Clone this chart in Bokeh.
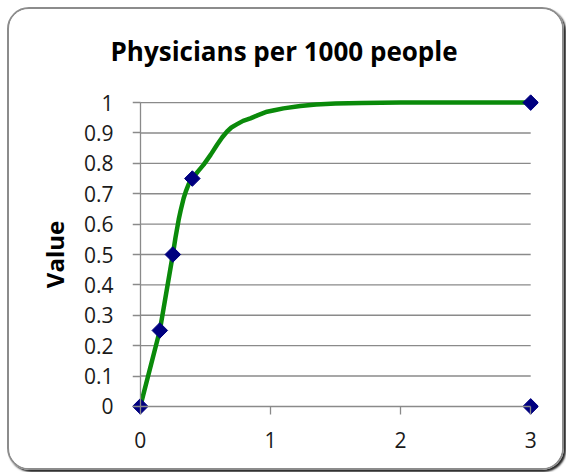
import numpy as np
from bokeh.plotting import figure
from bokeh.models import Range1d, FixedTicker, LinearAxis
from bokeh.embed import file_html
from bokeh.resources import INLINE

# ---- data ----
marker_x = [0, 0.15, 0.25, 0.4, 3, 3]
marker_y = [0, 0.25, 0.5, 0.75, 1, 0]

curve_x = [0, 0.15, 0.25, 0.27, 0.295, 0.31, 0.333, 0.35, 0.372, 0.385, 0.4,
           0.44, 0.487, 0.54, 0.59, 0.63, 0.667, 0.70, 0.744, 0.79, 0.846,
           0.90, 0.974, 1.03, 1.10, 1.23, 1.35, 1.5, 1.7, 2.0, 3.0]
curve_y = [0, 0.25, 0.5, 0.555, 0.615, 0.645, 0.685, 0.708, 0.732, 0.742, 0.75,
           0.772, 0.796, 0.828, 0.861, 0.886, 0.905, 0.918, 0.929, 0.94, 0.948,
           0.958, 0.970, 0.975, 0.981, 0.989, 0.994, 0.997, 0.999, 1.0, 1.0]

x_ticks = [0, 1, 2, 3]
y_ticks = [0, 0.1, 0.2, 0.3, 0.4, 0.5, 0.6, 0.7, 0.8, 0.9, 1.0]
y_tick_labels = {0: "0", 0.1: "0.1", 0.2: "0.2", 0.3: "0.3", 0.4: "0.4", 0.5: "0.5",
                 0.6: "0.6", 0.7: "0.7", 0.8: "0.8", 0.9: "0.9", 1.0: "1"}

title_text = "Physicians per 1000 people"
y_label = "Value"

FONT = "Open Sans"
GRID = "#8a8a8a"

p = figure(width=557, height=463, output_backend="svg", toolbar_location=None,
           x_range=Range1d(-0.06, 3.06), y_range=Range1d(-0.03, 1.03),
           min_border_left=123, min_border_right=28, min_border_top=83,
           min_border_bottom=57, title=title_text)

p.styles = {"border": "2px solid #8c8c8c", "border-radius": "22px",
            "box-shadow": "2px 2px 2px rgba(0,0,0,0.85)", "overflow": "hidden",
            "margin-left": "7px", "margin-top": "7px"}
p.outline_line_color = None
p.background_fill_color = "white"
p.border_fill_color = "white"

p.title.text_font = FONT
p.title.text_font_size = "26px"
p.title.text_font_style = "bold"
p.title.text_color = "#000000"
p.title.align = "left"
p.title.offset = -22
p.title.vertical_align = "top"
p.title.standoff = 46

# grid hidden; gridlines drawn across data extent 0..3
p.xgrid.visible = False
p.ygrid.visible = False
gy = [t for t in y_ticks if t > 0]
p.segment(x0=[x_ticks[0]] * len(gy), y0=gy, x1=[x_ticks[-1]] * len(gy), y1=gy,
          line_color=GRID, line_width=1.3)

# label-only axes at the frame edges
for ax in (p.xaxis[0], p.yaxis[0]):
    ax.axis_line_color = None
    ax.major_tick_line_color = None
    ax.major_tick_in = 0
    ax.major_tick_out = 0
    ax.minor_tick_line_color = None
    ax.major_label_text_font = FONT
    ax.major_label_text_font_size = "21px"
    ax.major_label_text_color = "#1a1a1a"

p.xaxis.ticker = FixedTicker(ticks=x_ticks)
p.xaxis.major_label_standoff = 16

p.yaxis.ticker = FixedTicker(ticks=y_ticks)
p.yaxis.major_label_overrides = y_tick_labels
p.yaxis.major_label_standoff = 19
p.yaxis.axis_label = y_label
p.yaxis.axis_label_text_font = FONT
p.yaxis.axis_label_text_font_size = "24px"
p.yaxis.axis_label_text_font_style = "bold"
p.yaxis.axis_label_text_color = "#000000"
p.yaxis.axis_label_standoff = 10

# line/tick axes placed at data zero
xa = LinearAxis(ticker=FixedTicker(ticks=x_ticks), fixed_location=0,
                bounds=(x_ticks[0], x_ticks[-1]))
ya = LinearAxis(ticker=FixedTicker(ticks=y_ticks), fixed_location=0,
                bounds=(y_ticks[0], y_ticks[-1]))
for ax in (xa, ya):
    ax.axis_line_color = GRID
    ax.axis_line_width = 1.3
    ax.major_tick_line_color = GRID
    ax.major_tick_line_width = 1.3
    ax.major_tick_in = 0
    ax.major_tick_out = 8
    ax.minor_tick_line_color = None
    ax.major_label_text_font_size = "0px"
    ax.major_label_text_color = None
p.add_layout(xa, "below")
p.add_layout(ya, "left")

p.line(curve_x, curve_y, line_color="#0a8a0a", line_width=4.5, line_join="round")
p.scatter(marker_x, marker_y, marker="square", angle=np.pi / 4, size=11,
          fill_color="#000080", line_color="#000080")

open("out.html", "w").write(file_html(p, INLINE))
